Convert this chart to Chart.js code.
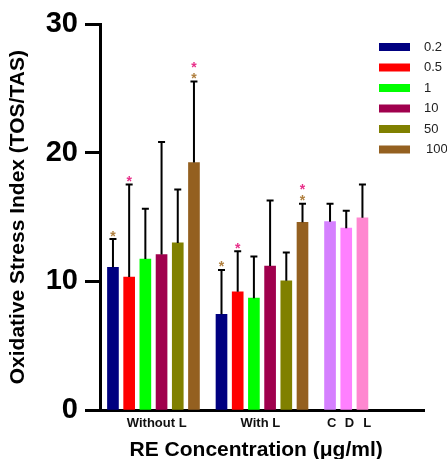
<!DOCTYPE html>
<html lang="en">
<head>
<meta charset="UTF-8">
<title>Oxidative Stress Index</title>
<script src="https://cdn.jsdelivr.net/npm/chart.js"></script>
<style>
  body { margin: 0; background: #fff; }
  .chart-box { position: relative; width: 447px; height: 459px; }
</style>
</head>
<body>
<div class="chart-box"><canvas id="osiChart"></canvas></div>
<script>
// data
const concentrations = ['0.2', '0.5', '1', '10', '50', '100'];
const groupLabels = ['Without L', 'With L'];
const withoutL = [11.1, 10.35, 11.75, 12.1, 13.0, 19.25];
const withoutLErr = [2.2, 7.2, 3.9, 8.75, 4.15, 6.3];
const withL = [7.45, 9.2, 8.7, 11.2, 10.05, 14.6];
const withLErr = [3.45, 3.15, 3.25, 5.1, 2.2, 1.45];
const controlLabels = ['C', 'D', 'L'];
const controls = [14.65, 14.15, 14.95];
const controlsErr = [1.4, 1.35, 2.6];
// significance stars above each bar (b = brown, p = pink), bottom to top
const starsWithoutL = [['b'], ['p'], [], [], [], ['b', 'p']];
const starsWithL = [['b'], ['p'], [], [], [], ['b', 'p']];
const yTicks = [0, 10, 20, 30];

// styling / layout
const concColors = ['#000080', '#ff0000', '#00ff00', '#a0004d', '#808000', '#946020'];
const controlColors = ['#d580ff', '#ff80ff', '#ff88d0'];
const starColors = { b: '#b08040', p: '#e8308a' };
const groupStart = [0, 6.7];     // slot index where each group begins
const controlStart = 13.4;

const datasets = concentrations.map((c, i) => ({
    label: c,
    data: [
        { x: groupStart[0] + i, y: withoutL[i] },
        { x: groupStart[1] + i, y: withL[i] }
    ],
    err: [withoutLErr[i], withLErr[i]],
    stars: [starsWithoutL[i], starsWithL[i]],
    backgroundColor: concColors[i]
}));
datasets.push({
    label: 'controls',
    data: controls.map((v, j) => ({ x: controlStart + j, y: v })),
    err: controlsErr,
    stars: controls.map(() => []),
    backgroundColor: controlColors
});

const xTickValues = [groupStart[0] + 2.7, groupStart[1] + 2.4].concat(controlLabels.map((l, j) => controlStart + 0.1 + j * 1.1));
const xTickLabels = groupLabels.concat(controlLabels);

// error bars + stars
const errorBars = {
    id: 'errorBars',
    afterDatasetsDraw(chart) {
        const ctx = chart.ctx;
        const y = chart.scales.y;
        chart.data.datasets.forEach((ds, di) => {
            const meta = chart.getDatasetMeta(di);
            meta.data.forEach((bar, i) => {
                const top = y.getPixelForValue(ds.data[i].y + ds.err[i]);
                ctx.save();
                ctx.strokeStyle = '#000';
                ctx.lineWidth = 2;
                ctx.beginPath();
                ctx.moveTo(bar.x, bar.y);
                ctx.lineTo(bar.x, top);
                ctx.moveTo(bar.x - 3.5, top);
                ctx.lineTo(bar.x + 3.5, top);
                ctx.stroke();
                ctx.font = 'bold 14px Arial';
                ctx.textAlign = 'center';
                ctx.textBaseline = 'alphabetic';
                ds.stars[i].forEach((s, k) => {
                    ctx.fillStyle = starColors[s];
                    ctx.fillText('*', bar.x, top - 7 - k * 11.3 + 8.5);
                });
                ctx.restore();
            });
        });
    }
};

// legend drawn in the top right corner
const cornerLegend = {
    id: 'cornerLegend',
    afterDraw(chart) {
        const ctx = chart.ctx;
        ctx.save();
        ctx.font = '13px Arial';
        ctx.textBaseline = 'middle';
        ctx.textAlign = 'left';
        concentrations.forEach((c, i) => {
            const rowY = 47 + i * 20.5;
            ctx.fillStyle = concColors[i];
            ctx.fillRect(379, rowY - 4, 31, 8);
            ctx.fillStyle = '#222';
            ctx.fillText(c, i === 5 ? 426 : 424, rowY);
        });
        ctx.restore();
    }
};

new Chart(document.getElementById('osiChart'), {
    type: 'bar',
    data: { datasets: datasets },
    options: {
        responsive: true,
        maintainAspectRatio: false,
        animation: false,
        layout: { padding: { top: 24, right: 23, left: 0, bottom: 0 } },
        datasets: {
            bar: { barThickness: 11, grouped: false, borderWidth: 0 }
        },
        plugins: {
            legend: { display: false },
            tooltip: { enabled: false }
        },
        scales: {
            x: {
                type: 'linear',
                offset: false,
                min: -0.8,
                max: 19.2,
                afterFit(scale) { scale.height = 49; },
                afterBuildTicks(scale) { scale.ticks = xTickValues.map(v => ({ value: v })); },
                grid: { display: true, drawOnChartArea: false, drawTicks: false },
                border: { color: '#000', width: 3 },
                ticks: {
                    autoSkip: false,
                    maxRotation: 0,
                    padding: 6,
                    color: '#111',
                    font: { family: 'Arial', weight: 'bold', size: 13 },
                    callback: (v, i) => xTickLabels[i]
                },
                title: {
                    display: true,
                    // trailing spaces nudge the centred title a little to the left
                    text: 'RE Concentration (\u03bcg/ml)\u00a0\u00a0',
                    color: '#000',
                    font: { family: 'Arial', weight: 'bold', size: 21 },
                    padding: { top: 0, bottom: -3.6 }
                }
            },
            y: {
                min: 0,
                max: 30,
                afterFit(scale) { scale.width = 100; },
                afterBuildTicks(scale) { scale.ticks = yTicks.map(v => ({ value: v })); },
                grid: { drawOnChartArea: false, tickLength: 15, tickWidth: 3, tickColor: '#000' },
                border: { color: '#000', width: 3 },
                ticks: {
                    padding: 7,
                    color: '#000',
                    font: { family: 'Arial', weight: 'bold', size: 29 }
                },
                title: {
                    display: true,
                    text: 'Oxidative Stress Index (TOS/TAS)',
                    color: '#000',
                    font: { family: 'Arial', weight: 'bold', size: 21 },
                    padding: { top: 5.4, bottom: 0 }
                }
            }
        }
    },
    plugins: [errorBars, cornerLegend]
});
</script>
</body>
</html>
